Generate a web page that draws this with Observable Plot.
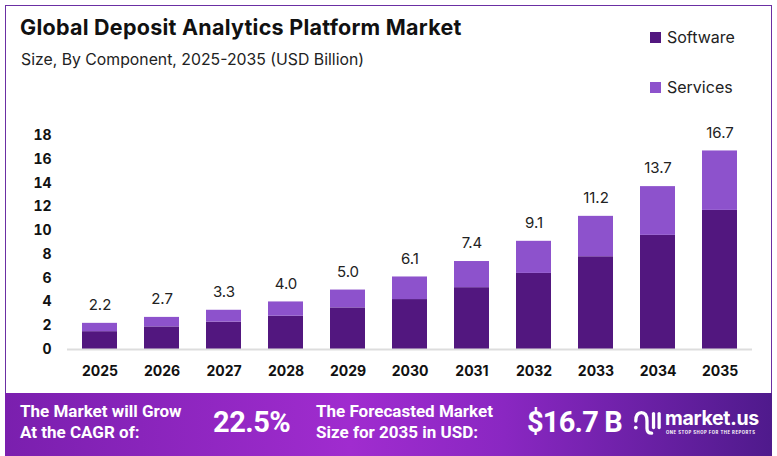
<!DOCTYPE html>
<html><head><meta charset="utf-8">
<script src="https://cdn.jsdelivr.net/npm/d3@7"></script>
<script src="https://cdn.jsdelivr.net/npm/@observablehq/plot@0.6"></script>
<style>
body{margin:0;background:#fff;font-family:Inter,"Noto Sans",sans-serif}
#wrap{position:relative;width:777px;height:456px;overflow:hidden;background:#fff}
#frame{position:absolute;left:5px;top:5px;width:767px;height:392px;border:1.5px solid #6b2fa3;box-sizing:border-box}
#title{position:absolute;left:20px;top:14px;font-size:21.5px;font-weight:700;color:#111;letter-spacing:0.25px}
#sub{position:absolute;left:21px;top:50px;font-size:15.8px;color:#222}
.leg{position:absolute;left:650px;font-size:16px;color:#222;display:flex;align-items:center}
.leg i{display:inline-block;width:11px;height:11px;margin-right:6px}
#chart{position:absolute;left:0;top:100px}
#banner{position:absolute;left:5px;top:393px;width:767px;height:63px;background:linear-gradient(90deg,#7a1fae 0%,#a02ccf 45%,#8a27c2 65%,#4f1a8c 100%);color:#fff;font-family:"Liberation Sans Narrow",Roboto,sans-serif;font-weight:700}
.b{position:absolute}
</style></head>
<body>
<div id="wrap">
  <div id="frame"></div>
  <div id="title">Global Deposit Analytics Platform Market</div>
  <div id="sub">Size, By Component, 2025-2035 (USD Billion)</div>
  <div class="leg" style="top:27px"><i style="background:#52177f"></i>Software</div>
  <div class="leg" style="top:77px"><i style="background:#8d52cc"></i>Services</div>
  <div id="chart"></div>
  <div id="banner">
    <div class="b" style="left:15px;top:8px;font-size:17px;line-height:21px">The Market will Grow<br>At the CAGR of:</div>
    <div class="b" style="left:208px;top:12px;font-size:29px;letter-spacing:-0.5px">22.5%</div>
    <div class="b" style="left:311px;top:8px;font-size:17px;line-height:21px">The Forecasted Market<br>Size for 2035 in USD:</div>
    <div class="b" style="left:522px;top:12px;font-size:29px;letter-spacing:-0.8px">$16.7 B</div>
    <svg class="b" style="left:628px;top:15px" width="28" height="28" viewBox="0 0 30 30">
      <path d="M3 14 Q3 5 9 5 Q15 5 15 14 L15 22 Q15 27 20 27" fill="none" stroke="#fff" stroke-width="3.5" stroke-linecap="round"/>
      <line x1="22" y1="6" x2="22" y2="21" stroke="#fff" stroke-width="3.5" stroke-linecap="round"/>
      <line x1="28" y1="6" x2="28" y2="21" stroke="#fff" stroke-width="3.5" stroke-linecap="round"/>
      <circle cx="3" cy="21" r="2" fill="#fff"/>
    </svg>
    <div class="b" style="left:660px;top:13px;font-family:Inter,sans-serif;font-size:19.5px;letter-spacing:-0.3px">market.us</div>
    <div class="b" style="left:661px;top:37px;font-family:Inter,sans-serif;font-size:4.2px;letter-spacing:0.55px">ONE STOP SHOP FOR THE REPORTS</div>
  </div>
</div>
<script>
const years = ["2025","2026","2027","2028","2029","2030","2031","2032","2033","2034","2035"];
const software = [1.5,1.9,2.3,2.8,3.5,4.2,5.2,6.4,7.8,9.6,11.7];
const services = [0.7,0.8,1.0,1.2,1.5,1.9,2.2,2.7,3.4,4.1,5.0];
const totals = [2.2,2.7,3.3,4.0,5.0,6.1,7.4,9.1,11.2,13.7,16.7];
const components = ["Software","Services"];
const colors = ["#52177f","#8d52cc"];
const yTicks = [0,2,4,6,8,10,12,14,16,18];

const rows = [];
years.forEach((y,i)=>{
  rows.push({year:y, component:"Software", value:software[i]});
  rows.push({year:y, component:"Services", value:services[i]});
});
const totalRows = years.map((y,i)=>({year:y,total:totals[i]}));

const chart = Plot.plot({
  width:777, height:290,
  marginLeft:67, marginRight:25, marginTop:35, marginBottom:41,
  style:{fontFamily:"Inter, sans-serif", background:"transparent"},
  x:{domain:years, paddingInner:0.44, paddingOuter:0.21, label:null},
  y:{domain:[0,18], label:null},
  color:{domain:components, range:colors},
  marks:[
    Plot.axisY({ticks:yTicks, tickSize:0, tickPadding:16, fontSize:14, fontWeight:700, fill:"#111", label:null}),
    Plot.axisX({tickSize:0, tickPadding:17, fontSize:14, fontWeight:700, fill:"#111", label:null}),
    Plot.barY(rows, {x:"year", y:"value", fill:"component", order:components}),
    Plot.ruleY([0], {stroke:"#dddddd", strokeWidth:2}),
    Plot.text(totalRows, {x:"year", y:"total", text:d=>d.total.toFixed(1), dy:-18, fontSize:15, fill:"#222"})
  ]
});
document.getElementById("chart").appendChild(chart);
</script>
</body></html>
